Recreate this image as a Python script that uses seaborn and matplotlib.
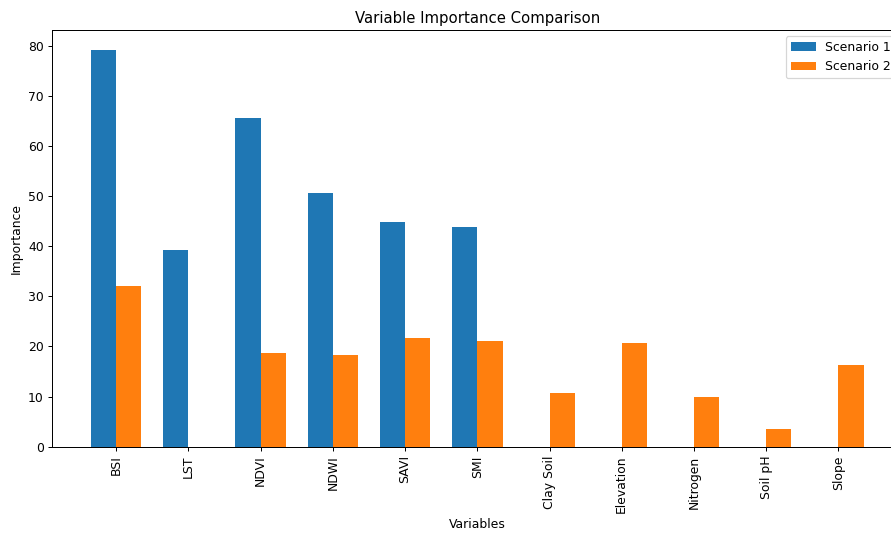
import matplotlib
matplotlib.use("Agg")
import matplotlib.pyplot as plt
import seaborn as sns
import pandas as pd
import numpy as np

variables = ["BSI", "LST", "NDVI", "NDWI", "SAVI", "SMI",
             "Clay Soil", "Elevation", "Nitrogen", "Soil pH", "Slope"]
scenario1 = [79.2, 39.2, 65.5, 50.7, 44.9, 43.8, None, None, None, None, None]
scenario2 = [32.1, None, 18.6, 18.4, 21.6, 21.0, 10.7, 20.6, 9.9, 3.5, 16.4]
series_names = ["Scenario 1", "Scenario 2"]
colors = ["#1f77b4", "#ff7f0e"]

rows = []
for name, vals in zip(series_names, [scenario1, scenario2]):
    for v, val in zip(variables, vals):
        if val is not None:
            rows.append({"Variable": v, "Importance": val, "Scenario": name})
df = pd.DataFrame(rows)

DPI = 89.1
fig = plt.figure(figsize=(891 / DPI, 533 / DPI), dpi=DPI)
ax = fig.add_axes([52.3 / 891, 86.3 / 533, 850.0 / 891, (446.7 - 30) / 533])

sns.barplot(data=df, x="Variable", y="Importance", hue="Scenario",
            order=variables, hue_order=series_names, palette=colors,
            saturation=1, width=0.7, gap=0, linewidth=0, dodge=True,
            errorbar=None, ax=ax)

ax.set_xlim(-0.885, len(variables) - 1 + 0.885)
ax.set_ylim(0, 83.16)
ax.set_xticks(range(len(variables)))
ax.set_xticklabels(variables, rotation=90)
ax.set_title("Variable Importance Comparison")
ax.set_xlabel("Variables")
ax.set_ylabel("Importance")
sns.move_legend(ax, "upper right", title=None)

fig.savefig("out.png", dpi=DPI)
